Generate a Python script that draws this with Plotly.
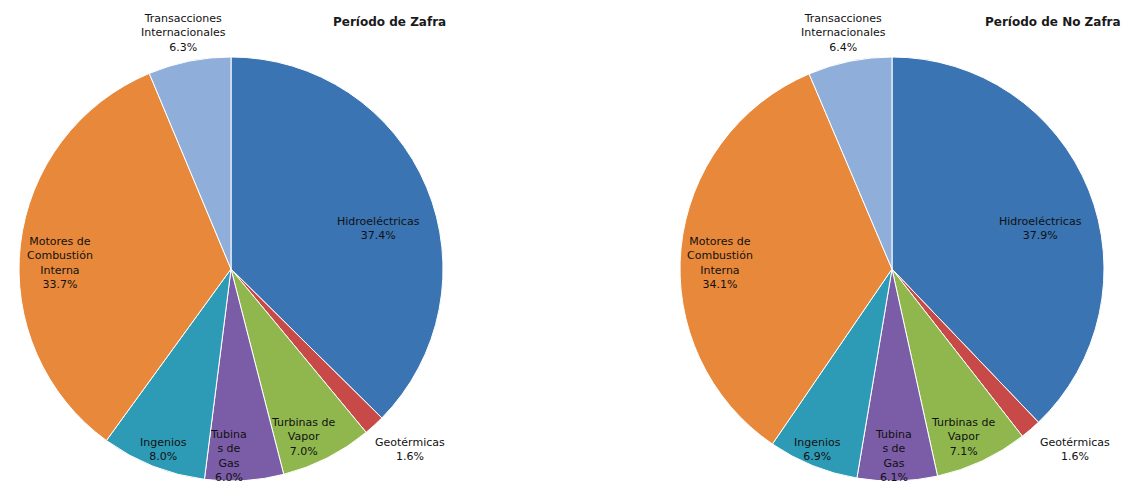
import plotly.graph_objects as go

# ---- data ----
categories = ["Hidroeléctricas", "Geotérmicas", "Turbinas de Vapor", "Turbinas de Gas",
              "Ingenios", "Motores de Combustión Interna", "Transacciones Internacionales"]
label_text = ["Hidroeléctricas", "Geotérmicas", "Turbinas de<br>Vapor", "Tubina<br>s de<br>Gas",
              "Ingenios", "Motores de<br>Combustión<br>Interna", "Transacciones<br>Internacionales"]
zafra_values = [37.4, 1.6, 7.0, 6.0, 8.0, 33.7, 6.3]
no_zafra_values = [37.9, 1.6, 7.1, 6.1, 6.9, 34.1, 6.4]
titles = ["Período de Zafra", "Período de No Zafra"]

colors = ["#3A74B2", "#C84A48", "#8FB74E", "#7B5CA6", "#2E9BB6", "#E8883A", "#8FAFDA"]

W, H = 1129, 487

# label centre positions in pixels (per pie), style only
left_pos = [(378, 228), (410, 449), (303, 437), (228, 456), (163, 449), (60, 263), (183, 33)]
right_pos = [(1040, 228), (1075, 449), (963, 437), (893, 456), (817, 449), (720, 263), (843, 33)]
title_pos = [(389, 22), (1053, 22)]

def px(x, y):
    return x / W, 1 - y / H

fig = go.Figure()
domains = [
    dict(x=[19 / W, 443 / W], y=[6 / H, 430 / H]),
    dict(x=[680 / W, 1104 / W], y=[6 / H, 430 / H]),
]
for vals, dom in zip([zafra_values, no_zafra_values], domains):
    fig.add_trace(go.Pie(
        labels=categories, values=vals, sort=False, direction="clockwise", rotation=0,
        marker=dict(colors=colors, line=dict(color="white", width=1)),
        textinfo="none", hoverinfo="label+percent", domain=dom, showlegend=False,
    ))

FONT = "DejaVu Sans, Lato, sans-serif"
annotations = []
for vals, pos in [(zafra_values, left_pos), (no_zafra_values, right_pos)]:
    for lab, v, (x, y) in zip(label_text, vals, pos):
        ax, ay = px(x, y)
        annotations.append(dict(
            x=ax, y=ay, xref="paper", yref="paper", showarrow=False,
            text=f"{lab}<br>{v:.1f}%", align="center",
            font=dict(family=FONT, size=11, color="#111111"),
            xanchor="center", yanchor="middle",
        ))
for t, (x, y) in zip(titles, title_pos):
    ax, ay = px(x, y)
    annotations.append(dict(
        x=ax, y=ay, xref="paper", yref="paper", showarrow=False, text=f"<b>{t}</b>",
        font=dict(family=FONT, size=12, color="#1a1a1a"),
        xanchor="center", yanchor="middle",
    ))

fig.update_layout(
    width=W, height=H, margin=dict(l=0, r=0, t=0, b=0),
    paper_bgcolor="white", plot_bgcolor="white",
    annotations=annotations,
)
fig.write_html("out.html", config={"displayModeBar": False},
               post_script="document.body.style.margin='0';")
